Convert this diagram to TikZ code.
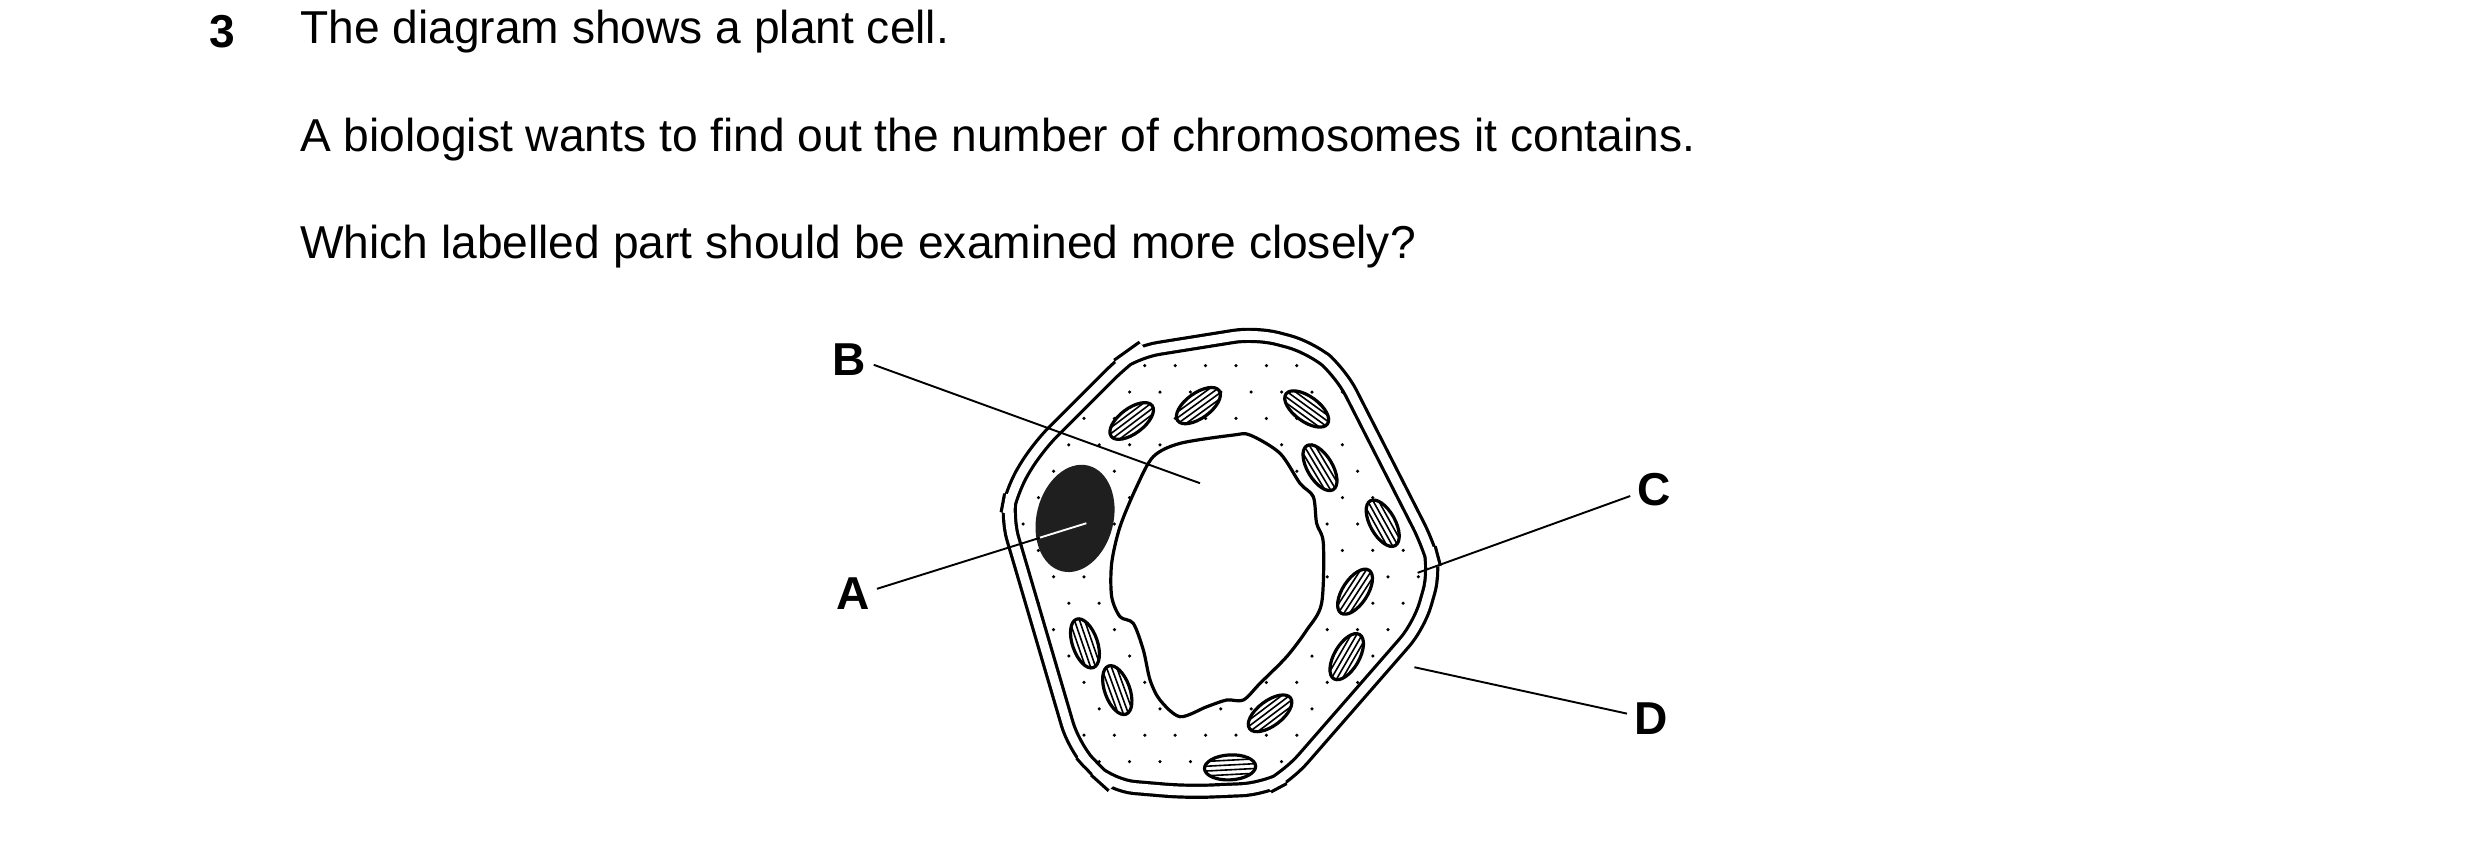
\documentclass[tikz,border=0pt]{standalone}
\usepackage{fontspec}
\setmainfont{Liberation Sans}
\begin{document}
\begin{tikzpicture}[x=0.01cm,y=0.01cm,
    every node/.style={inner sep=0pt,font=\fontsize{8.2}{10}\selectfont},
    lab/.style={font=\fontsize{8.2}{10}\selectfont\bfseries},
    pointer/.style={line width=0.012cm},
    wall/.style={line width=0.02cm,double=white,double distance=0.055cm,rounded corners=4pt},
    edge/.style={line width=0.02cm},
    plast/.style={line width=0.02cm,fill=white}]
    \useasboundingbox (0,0) rectangle (1550,-529);

    % Question text
    \node[font=\fontsize{8.2}{10}\selectfont\bfseries] (num) at (139,-20) {3};
    \node[anchor=west] (line1) at (187,-20) {The diagram shows a plant cell.};
    \node[anchor=west] (line2) at (187,-87) {A biologist wants to find out the number of chromosomes it contains.};
    \node[anchor=west] (line3) at (187,-154) {Which labelled part should be examined more closely?};

    % Cytoplasm dots
    \begin{scope}[even odd rule]
        \clip (710,-220) -- (785,-208) -- (819,-217) -- (838,-233) -- (893,-341)
            -- (897,-356) -- (887,-391) -- (805,-485) -- (790,-493) -- (742,-495) -- (695,-491)
            -- (685,-482) -- (671,-466) -- (629,-323) -- (632,-307) -- (648,-280) -- (703,-225) -- cycle
            plot[smooth cycle] coordinates {(720.8,-285.4) (737.5,-277.1) (770.8,-271.9) (781.3,-271.9)
            (800,-283.3) (812.5,-302.1) (820.8,-310.4) (822.9,-327.1) (827.1,-339.6) (826,-377.1)
            (816.7,-393.8) (804.2,-410.4) (787.5,-427.1) (777.1,-437.5) (766.7,-437.5) (754.2,-441.7)
            (737.5,-447.9) (725,-437.5) (718.8,-425) (714.6,-406.3) (708.3,-389.6) (700,-385.4)
            (694.8,-372.9) (694.8,-352) (700,-329.2) (710.4,-304.2)};
        \foreach \i in {0,...,16} {
            \foreach \j in {0,...,18} {
                \pgfmathsetmacro{\dx}{630+\i*19+mod(\j,2)*9.5}
                \pgfmathsetmacro{\dy}{-212-\j*16.5}
                \fill (\dx,\dy) circle (0.011cm);
            }
        }
    \end{scope}

    % Cell wall and membrane
    \draw[wall] (710,-220) -- (785,-208) -- (819,-217) -- (838,-233) -- (893,-341)
        -- (897,-356) -- (887,-391) -- (805,-485) -- (790,-493) -- (742,-495) -- (695,-491)
        -- (685,-482) -- (671,-466) -- (629,-323) -- (632,-307) -- (648,-280) -- (703,-225) -- cycle;

    % Vacuole
    \draw[edge,fill=white] plot[smooth cycle] coordinates {(720.8,-285.4) (737.5,-277.1) (770.8,-271.9)
        (781.3,-271.9) (800,-283.3) (812.5,-302.1) (820.8,-310.4) (822.9,-327.1) (827.1,-339.6)
        (826,-377.1) (816.7,-393.8) (804.2,-410.4) (787.5,-427.1) (777.1,-437.5) (766.7,-437.5)
        (754.2,-441.7) (737.5,-447.9) (725,-437.5) (718.8,-425) (714.6,-406.3) (708.3,-389.6)
        (700,-385.4) (694.8,-372.9) (694.8,-352) (700,-329.2) (710.4,-304.2)};

    % Chloroplasts
    \foreach \cx/\cy/\ang in {707.3/-263.1/37, 749/-253.5/36, 816.7/-255.6/-36, 825/-292.3/-59,
        864.2/-327/-61, 846.9/-369.8/57, 841.7/-410.4/60, 793.8/-445.8/37, 768.8/-479.6/3,
        698.3/-431.3/-70, 678.1/-402.1/-71} {
        \begin{scope}[shift={(\cx,\cy)},rotate=\ang]
            \fill[white] (0,0) ellipse (0.16cm and 0.078cm);
            \begin{scope}
                \clip (0,0) ellipse (0.16cm and 0.078cm);
                \foreach \o in {-4.5,-1.5,1.5,4.5}
                    \draw[line width=0.01cm] (-20,\o) -- (20,\o);
            \end{scope}
            \draw[edge] (0,0) ellipse (0.16cm and 0.078cm);
        \end{scope}
    }

    % Nucleus
    \fill[black!88] (671.9,-324) [rotate around={-14:(671.9,-324)}] ellipse (0.24cm and 0.34cm);

    % Labels
    \node[lab] (B) at (531,-225) {B};
    \node[lab] (A) at (533,-371) {A};
    \node[lab] (C) at (1034,-306) {C};
    \node[lab] (D) at (1032,-449) {D};
    \coordinate (Bend) at (750,-302);
    \coordinate (Aend) at (679,-327);
    \coordinate (Aedge) at (650,-336);
    \coordinate (Cend) at (886,-358);
    \coordinate (Dend) at (884,-417);

    \draw[pointer] (B.east) ++(4,-3) -- (Bend);
    \draw[pointer] (A.east) ++(4,3) -- (Aend);
    \draw[white,line width=0.012cm] (Aedge) -- (Aend);
    \draw[pointer] (C.west) ++(-4,-4) -- (Cend);
    \draw[pointer] (D.west) ++(-4,3) -- (Dend);
\end{tikzpicture}
\end{document}
